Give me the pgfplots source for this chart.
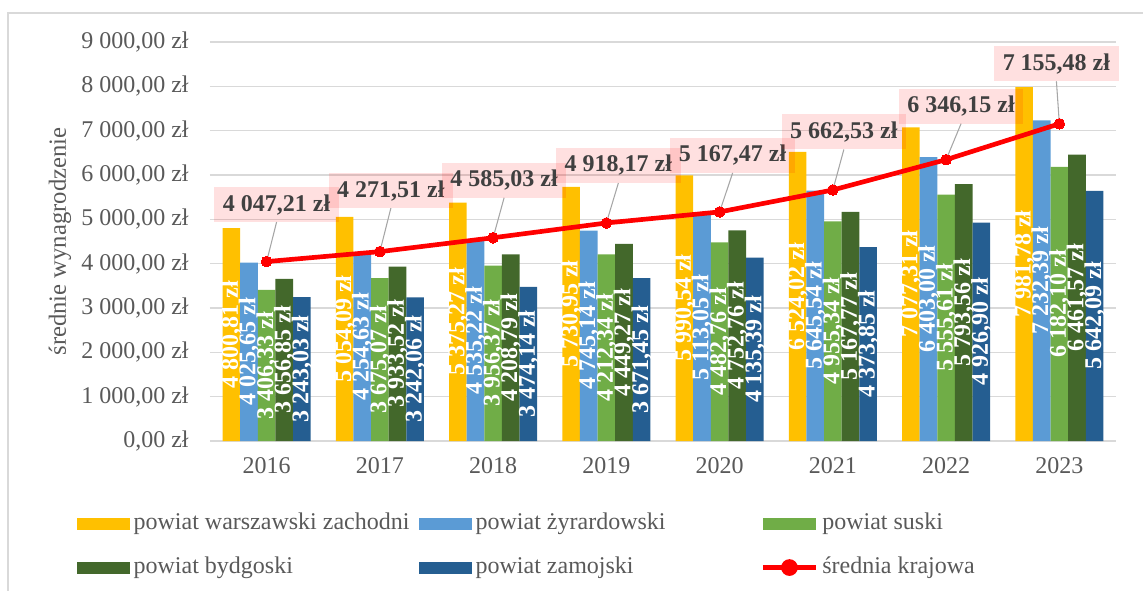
\documentclass[border=0pt]{standalone}
\usepackage{pgfplots}
\usepackage{pgfplotstable}
\pgfplotsset{compat=1.18}
\usepackage{fontspec}
\setmainfont{Liberation Serif}
\definecolor{cy}{HTML}{FFC000}
\definecolor{cb}{HTML}{5B9BD5}
\definecolor{cg}{HTML}{70AD47}
\definecolor{cdg}{HTML}{43682B}
\definecolor{cn}{HTML}{255E91}
\definecolor{tx}{HTML}{595959}
\definecolor{tdark}{HTML}{404040}
\definecolor{gridc}{HTML}{D9D9D9}
\newcommand{\fz}{\fontsize{18pt}{21pt}\selectfont}
\newcommand{\pln}[1]{\pgfmathprintnumber[fixed, fixed zerofill, precision=2, use comma, 1000 sep={\hspace{0.25em}}, assume math mode=true]{#1}\hspace{0.25em}zł}

\pgfplotstableread{
x a b c d e
0 4800.81 4025.65 3406.33 3656.85 3243.03
1 5054.09 4254.63 3675.07 3933.52 3242.06
2 5375.27 4535.22 3956.37 4208.79 3474.14
3 5730.95 4745.14 4212.34 4449.27 3671.45
4 5990.54 5113.05 4482.76 4752.76 4135.39
5 6524.02 5645.54 4955.34 5167.77 4373.85
6 7077.31 6403.00 5555.61 5793.56 4926.90
7 7981.78 7232.39 6182.10 6461.57 5642.09
}\bars

\pgfplotstableread{
x m dx dy lv
0 4047.21 0.088 1286 891
1 4271.51 0.097 1376 981
2 4585.03 0.097 1297 902
3 4918.17 0.106 1297 902
4 5167.47 0.115 1275 880
5 5662.53 0.097 1308 913
6 6346.15 0.132 1207 812
7 7155.48 -0.026 1354 959
}\avg

\pgfplotsset{
  barlab/.style={forget plot, draw=none, mark=none, nodes near coords={\pln{\pgfplotspointmeta}}, point meta=explicit,
    every node near coord/.style={xshift=#1, rotate=90, anchor=center, text=white, font=\bfseries\fz, inner sep=0pt}},
}

\begin{document}
\begin{tikzpicture}
\path[use as bounding box] (-157.5pt,-111.75pt) rectangle (699.75pt,330.75pt);
\draw[gridc, line width=0.9pt] (-151.5pt,-115pt) -- (-151.5pt,321pt) -- (705pt,321pt);
\begin{axis}[
  at={(0,0)}, anchor=south west,
  scale only axis, width=679.5pt, height=299.25pt,
  xmin=-0.5, xmax=7.5, ymin=0, ymax=9000,
  xtick={0,...,7}, xticklabels={2016,2017,2018,2019,2020,2021,2022,2023},
  ytick={0,1000,...,9000}, scaled y ticks=false,
  yticklabel={\pln{\tick}},
  y tick label style={font=\fz, text=tx, xshift=-12.5pt},
  x tick label style={font=\fz, text=tx, yshift=-9pt},
  axis line style={draw=none}, major tick style={draw=none},
  ymajorgrids, grid style={gridc, line width=1.1pt},
  clip=false,
  ylabel={średnie wynagrodzenie},
  every axis y label/.style={at={(axis description cs:-0.1656,0.5)}, rotate=90, anchor=center, font=\fontsize{18.5pt}{22pt}\selectfont, text=tx},
  legend columns=3,
  legend style={draw=none, fill=none, at={(0.4216,-0.262)}, anchor=center, inner sep=0pt,
    column sep=0pt, row sep=16.5pt, font=\fz, text=tx,
    /tikz/every odd column/.append style={column sep=3pt},
    nodes={inner xsep=0pt, inner ysep=0pt, text height=12.5pt, text depth=4pt}},
  legend cell align=left,
]
\addplot[ybar, bar width=13.2pt, bar shift=-26.4pt, fill=cy, draw=none,
  legend image code/.code={\fill[cy] (0pt,-4.5pt) rectangle (39.75pt,4.5pt);}] table[x=x,y=a]{\bars};
\addlegendentry{\makebox[213.75pt][l]{powiat warszawski zachodni}}
\addplot[ybar, bar width=13.2pt, bar shift=-13.2pt, fill=cb, draw=none,
  legend image code/.code={\fill[cb] (0pt,-4.5pt) rectangle (39.75pt,4.5pt);}] table[x=x,y=b]{\bars};
\addlegendentry{\makebox[213.75pt][l]{powiat żyrardowski}}
\addplot[ybar, bar width=13.2pt, bar shift=0pt, fill=cg, draw=none,
  legend image code/.code={\fill[cg] (0pt,-4.5pt) rectangle (39.75pt,4.5pt);}] table[x=x,y=c]{\bars};
\addlegendentry{\makebox[213.75pt][l]{powiat suski}}
\addplot[ybar, bar width=13.2pt, bar shift=13.2pt, fill=cdg, draw=none,
  legend image code/.code={\fill[cdg] (0pt,-4.5pt) rectangle (39.75pt,4.5pt);}] table[x=x,y=d]{\bars};
\addlegendentry{\makebox[213.75pt][l]{powiat bydgoski}}
\addplot[ybar, bar width=13.2pt, bar shift=26.4pt, fill=cn, draw=none,
  legend image code/.code={\fill[cn] (0pt,-4.5pt) rectangle (39.75pt,4.5pt);}] table[x=x,y=e]{\bars};
\addlegendentry{\makebox[213.75pt][l]{powiat zamojski}}

\addplot[barlab=-26.4pt] table[x=x, y expr=\thisrow{a}/2, meta=a]{\bars};
\addplot[barlab=-13.2pt] table[x=x, y expr=\thisrow{b}/2, meta=b]{\bars};
\addplot[barlab=0pt] table[x=x, y expr=\thisrow{c}/2, meta=c]{\bars};
\addplot[barlab=13.2pt] table[x=x, y expr=\thisrow{d}/2, meta=d]{\bars};
\addplot[barlab=26.4pt] table[x=x, y expr=\thisrow{e}/2, meta=e]{\bars};

\addplot[forget plot, -, draw=black!35, line width=0.8pt, quiver={u=\thisrow{dx}, v=\thisrow{lv}}] table[x=x,y=m]{\avg};

\addplot[red, line width=3.5pt, mark=*, mark size=4pt, mark options={fill=red, draw=red, line width=0pt},
  legend image code/.code={\draw[red, line width=3.5pt] (0pt,0pt) -- (39.75pt,0pt); \fill[red] (19.875pt,0pt) circle (4.5pt);}] table[x=x,y=m]{\avg};
\addlegendentry{\makebox[213.75pt][l]{średnia krajowa}}

\addplot[forget plot, draw=none, mark=none, nodes near coords={\pln{\pgfplotspointmeta}}, point meta=explicit,
  every node near coord/.style={anchor=center, fill=red, fill opacity=0.12, text opacity=1, text=tdark, font=\bfseries\fz, inner xsep=6.4pt, inner ysep=0pt, minimum height=26.25pt}]
  table[x expr=\thisrow{x}+\thisrow{dx}, y expr=\thisrow{m}+\thisrow{dy}, meta=m]{\avg};
\end{axis}
\end{tikzpicture}
\end{document}
